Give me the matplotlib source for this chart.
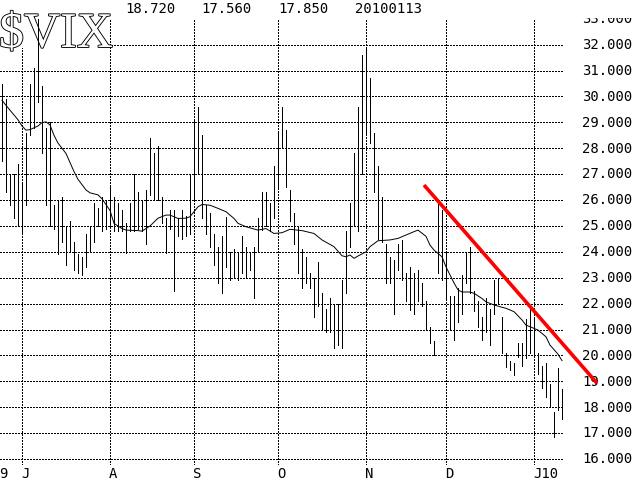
import numpy as np
import pandas as pd
import matplotlib
matplotlib.use("Agg")
import matplotlib.pyplot as plt
import matplotlib.patheffects as pe
from matplotlib.patches import Rectangle
from matplotlib.transforms import blended_transform_factory

# ---------------- data ----------------
holidays = ["2009-07-03", "2009-09-07", "2009-11-26", "2009-12-25", "2010-01-01"]
dates = pd.bdate_range("2009-06-24", "2010-01-13")
dates = dates[~dates.isin(pd.to_datetime(holidays))]

highs = [30.5, 29.9, 27.0, 27.0, 27.4, 26.7, 28.6, 30.5, 31.1, 33.0,
         30.4, 28.8, 29.0, 25.8, 26.0, 26.1, 25.0, 25.2, 24.4, 23.9,
         23.8, 24.7, 25.0, 25.9, 25.7, 26.1, 26.0, 26.5, 26.1, 25.9,
         25.6, 25.1, 25.9, 27.0, 26.3, 26.0, 26.4, 28.4, 27.8, 28.1,
         26.1, 25.3, 25.6, 25.6, 25.3, 25.6, 25.4, 27.0, 29.1, 29.6,
         28.5, 25.8, 25.5, 24.7, 24.2, 24.6, 25.35, 24.0, 24.1, 24.0,
         24.6, 24.2, 24.0, 24.2, 25.3, 26.3, 26.3, 25.9, 27.3, 28.6,
         29.6, 28.7, 26.4, 25.5, 25.0, 24.1, 23.8, 23.2, 23.0, 23.6,
         22.4, 21.8, 22.2, 22.0, 22.0, 22.9, 24.8, 25.9, 27.8, 29.6,
         31.6, 31.85, 30.7, 28.6, 27.3, 26.1, 24.3, 23.8, 23.7, 24.3,
         24.45, 23.2, 23.4, 23.2, 23.3, 22.8, 22.1, 21.1, 20.55, 25.9,
         25.6, 24.0, 22.3, 22.3, 22.6, 23.1, 24.0, 24.2, 22.5, 22.1,
         21.5, 22.2, 21.8, 22.9, 23.0, 21.5, 20.1, 19.8, 19.7, 20.5,
         20.5, 21.4, 21.9, 21.4, 20.1, 19.6, 19.7, 18.9, 17.8, 19.5,
         18.72]
lows = [27.5, 26.3, 25.8, 25.3, 25.0, 24.7, 25.8, 28.5, 28.8, 29.8,
        27.8, 25.8, 25.0, 24.9, 23.9, 24.4, 23.5, 24.0, 23.3, 23.2,
        23.1, 23.4, 24.0, 24.4, 25.0, 24.8, 24.9, 25.0, 24.8, 24.8,
        24.8, 23.95, 24.8, 24.8, 24.9, 24.8, 24.3, 26.2, 26.0, 26.0,
        25.1, 23.95, 24.9, 22.5, 24.6, 24.5, 24.6, 24.7, 26.0, 27.0,
        25.3, 24.7, 24.2, 23.5, 22.8, 22.4, 23.4, 22.9, 23.0, 22.9,
        23.2, 23.0, 23.3, 22.2, 24.0, 24.85, 25.0, 24.8, 25.3, 26.5,
        28.0, 26.5, 25.2, 24.3, 23.2, 22.6, 22.8, 22.6, 21.5, 21.9,
        21.0, 20.9, 20.9, 20.3, 20.4, 20.3, 22.4, 24.2, 25.0, 24.8,
        27.0, 28.5, 28.2, 26.3, 24.5, 24.4, 22.8, 22.8, 21.6, 23.3,
        22.9, 22.1, 21.75, 21.6, 22.1, 21.9, 21.0, 20.5, 20.0, 23.2,
        22.9, 22.2, 21.0, 20.6, 21.3, 21.6, 22.8, 22.4, 21.7, 21.1,
        20.6, 20.9, 20.4, 21.6, 22.0, 20.1, 19.55, 19.45, 19.25, 19.95,
        19.6, 19.9, 20.1, 19.95, 19.3, 18.75, 18.4, 18.0, 16.85, 17.9,
        17.56]

# moving average line, read at bar numbers (1 = first bar)
ma_bar = [1, 3, 5, 6, 7, 8, 10, 11, 12, 13, 14, 15, 17, 18, 19, 20, 22, 23,
          25, 26, 28, 29, 31, 32, 35, 36, 38, 40, 42, 43, 45, 47, 48, 50, 51,
          53, 55, 57, 59, 60, 62, 65, 67, 69, 71, 73, 76, 79, 81, 84, 86, 87,
          88, 89, 90, 92, 93, 95, 98, 100, 102, 104, 105, 107, 108, 109, 111,
          112, 114, 115, 116, 118, 119, 121, 122, 124, 126, 127, 129, 131,
          132, 133, 135, 137, 138, 140, 141]
ma_val = [29.85, 29.47, 29.1, 28.86, 28.7, 28.72, 28.86, 28.99, 29.02, 28.9,
          28.5, 28.2, 27.8, 27.45, 27.1, 26.8, 26.39, 26.28, 26.2, 26.05,
          25.6, 25.1, 24.9, 24.84, 24.82, 24.8, 25.0, 25.3, 25.42, 25.42,
          25.29, 25.3, 25.36, 25.74, 25.83, 25.8, 25.68, 25.55, 25.29, 25.1,
          24.97, 24.84, 24.9, 24.71, 24.74, 24.87, 24.82, 24.71, 24.46, 24.2,
          23.85, 23.81, 23.88, 23.75, 23.84, 24.0, 24.2, 24.43, 24.46, 24.52,
          24.65, 24.78, 24.84, 24.6, 24.26, 24.07, 23.81, 23.42, 22.8, 22.53,
          22.45, 22.45, 22.4, 22.2, 22.07, 21.95, 21.86, 21.82, 21.69, 21.37,
          21.17, 21.11, 20.98, 20.72, 20.4, 20.05, 19.8]

# red trend line (bar number, value)
trend_bar = [106.5, 149.75]
trend_val = [26.58, 18.93]

month_labels = ["J", "A", "S", "O", "N", "D", "J10"]
y_levels = list(range(16, 34))
header_vals = ["18.720", "17.560", "17.850", "20100113"]
title = "$VIX"

# ---------------- figure ----------------
W, H = 640, 480
def fx(px):
    return px / W
def fy(py):
    return 1 - py / H

fig = plt.figure(figsize=(6.4, 4.8), dpi=100)
fig.patch.set_facecolor("white")

ax = fig.add_axes([0, fy(465), fx(563), (465 - 18) / H])
ax.set_xlim(0.5, 141.25)
ax.set_ylim(15.77, 33.03)
ax.axis("off")
ax.patch.set_visible(False)
ax.set_zorder(2)

pos = np.arange(1, len(dates) + 1)

# month starts
mstart = []
prev = None
for p, d in zip(pos, dates):
    if prev is not None and d.month != prev:
        mstart.append(p)
    prev = d.month

dash = (0, (2, 2))
ax.hlines([v for v in y_levels if v <= 32], 0.5, 141.25, colors="black",
          linewidth=0.72, linestyles=dash, zorder=1, antialiased=False)
ax.vlines(mstart, 15.77, 33.03, colors="black", linewidth=0.72,
          linestyles=dash, zorder=1, antialiased=False)

# white box behind the title
ax.add_patch(Rectangle((0, fy(48)), fx(107), 48 / H, transform=fig.transFigure,
                       facecolor="white", edgecolor="none", zorder=2,
                       clip_on=False))
ax.text(fx(-1), fy(47), title, transform=fig.transFigure,
        fontfamily="Liberation Serif", fontsize=36, color="white",
        path_effects=[pe.withStroke(linewidth=1.3, foreground="black")],
        ha="left", va="baseline", zorder=2.5, clip_on=False)

ax.vlines(pos, lows, highs, colors="black", linewidth=0.72, zorder=3,
          clip_on=False, antialiased=False)
ax.plot(ma_bar, ma_val, color="black", linewidth=0.7, zorder=3)
ax.plot(trend_bar, trend_val, color="#ff0000", linewidth=2.6, zorder=4,
        clip_on=False, solid_capstyle="butt")

# month labels
trans = blended_transform_factory(ax.transData, fig.transFigure)
mono = "DejaVu Sans Mono"
for p, lab in zip(mstart, month_labels):
    ax.text(p - 0.3, fy(478), lab, transform=trans, fontfamily=mono,
            fontsize=10, ha="left", va="baseline", clip_on=False)
fig.text(fx(-1), fy(478), "9", fontfamily=mono, fontsize=10, ha="left",
         va="baseline")

# y labels on right, clipped to the price panel
ax2 = fig.add_axes([fx(565), fy(463), fx(75), (463 - 18) / H])
ax2.axis("off")
ax2.set_zorder(1)
for v in y_levels:
    py = 459 - (v - 16) * 25.9
    t = ax2.text(fx(582), fy(py + 4.3), f"{v:.3f}", transform=fig.transFigure,
                 fontfamily=mono, fontsize=10, ha="left", va="baseline")
    t.set_clip_box(ax2.bbox)
    t.set_clip_on(True)

# header values
for i, s in enumerate(header_vals):
    fig.text(fx(125 + 76.5 * i), fy(13.3), s, fontfamily=mono, fontsize=10,
             ha="left", va="baseline")

fig.savefig("out.png", dpi=100)
